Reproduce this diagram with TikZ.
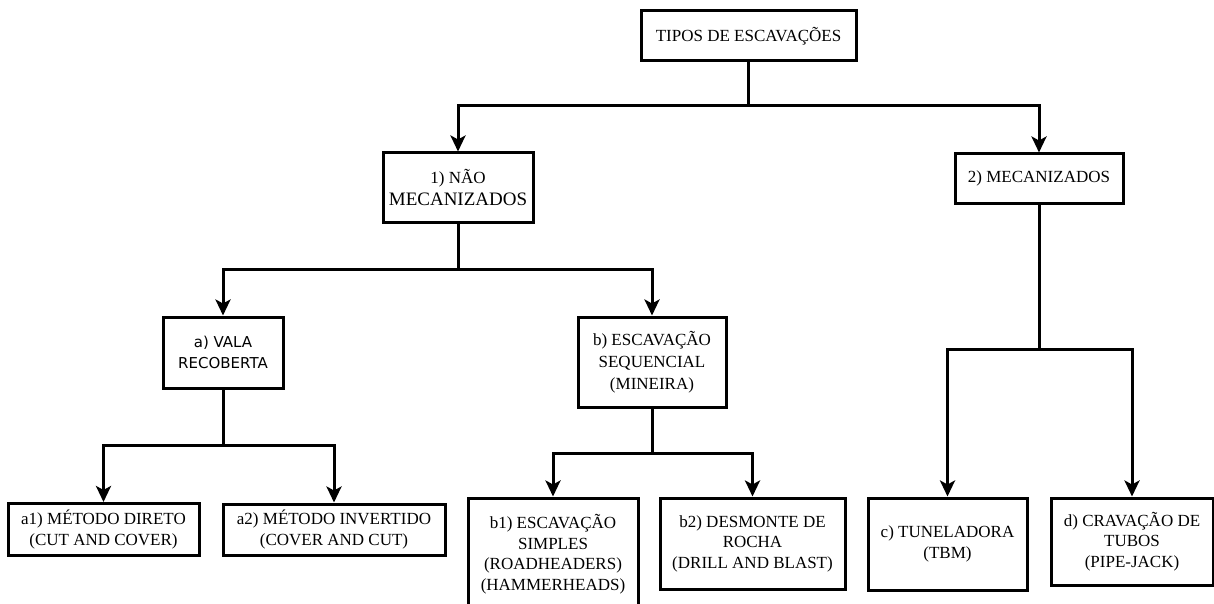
\documentclass[tikz,border=0pt]{standalone}
\usepackage{fontspec}
\setmainfont{Liberation Serif}
\newfontfamily\sansf{DejaVu Sans}
\usetikzlibrary{arrows.meta}
\tikzset{
  box/.style={draw, line width=3pt, fill=white, align=center, inner sep=2pt,
    font=\fontsize{17}{20.5}\selectfont},
  link/.style={line width=3pt},
  arr/.style={link, -{Stealth[length=16pt,width=15pt,inset=4pt]}}
}
\begin{document}
\begin{tikzpicture}[x=1pt,y=-1pt]
\clip (0,0) rectangle (1214,604);
\useasboundingbox (0,0) rectangle (1214,604);

% boxes
\node[box, minimum width=215pt, minimum height=50pt] (top) at (748.5,36) {TIPOS DE ESCAVAÇÕES};
\node[box, minimum width=150pt, minimum height=69pt] (n1) at (458,187.5)
  {1) NÃO\\[1pt]{\fontsize{19}{20}\selectfont MECANIZADOS}};
\node[box, minimum width=168pt, minimum height=49pt] (n2) at (1039,178.5) {2) MECANIZADOS};

\node[box, minimum width=120pt, minimum height=71pt, font=\sansf\fontsize{15}{20.5}\selectfont] (a) at (223,352.5)
  {a) VALA\\RECOBERTA};
\node[box, minimum width=148pt, minimum height=90pt, font=\fontsize{17}{22}\selectfont] (b) at (652,362)
  {b) ESCAVAÇÃO\\SEQUENCIAL\\(MINEIRA)};

\node[box, minimum width=191pt, minimum height=52pt] (a1) at (103.5,529.5)
  {a1) MÉTODO DIRETO\\(CUT AND COVER)};
\node[box, minimum width=222pt, minimum height=51pt] (a2) at (334,529.5)
  {a2) MÉTODO INVERTIDO\\(COVER AND CUT)};

\node[box, minimum width=170pt, minimum height=112pt] (b1) at (553,554)
  {b1) ESCAVAÇÃO\\SIMPLES\\(ROADHEADERS)\\(HAMMERHEADS)};
\node[box, minimum width=185pt, minimum height=91pt] (b2) at (752.5,543.5)
  {b2) DESMONTE DE\\ROCHA\\(DRILL AND BLAST)};

\node[box, minimum width=159pt, minimum height=92pt] (c) at (947.5,544)
  {c) TUNELADORA\\(TBM)};
\node[box, minimum width=162pt, minimum height=87pt] (d) at (1132,541.5)
  {d) CRAVAÇÃO DE\\TUBOS\\(PIPE-JACK)};

% branch points
\coordinate (j0) at (748.5,106);
\coordinate (j1) at (458,269);
\coordinate (j2) at (223,445);
\coordinate (j3) at (652,453);
\coordinate (j4) at (1039,349);

% connectors
\draw[link] (top.south) -- (j0);
\draw[arr] (j0) -| (n1.north);
\draw[arr] (j0) -| (n2.north);

\draw[link] (n1.south) -- (j1);
\draw[arr] (j1) -| (a.north);
\draw[arr] (j1) -| (b.north);

\draw[link] (a.south) -- (j2);
\draw[arr] (j2) -| (a1.north);
\draw[arr] (j2) -| (a2.north);

\draw[link] (b.south) -- (j3);
\draw[arr] (j3) -| (b1.north);
\draw[arr] (j3) -| (b2.north);

\draw[link] (n2.south) -- (j4);
\draw[arr] (j4) -| (c.north);
\draw[arr] (j4) -| (d.north);
\end{tikzpicture}
\end{document}
